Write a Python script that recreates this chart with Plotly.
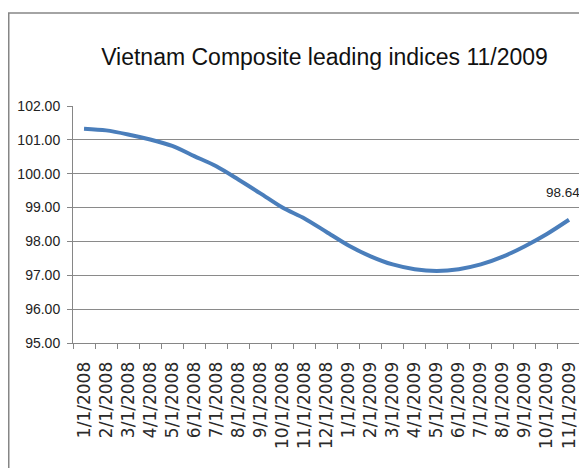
import plotly.graph_objects as go

months = ["1/1/2008", "2/1/2008", "3/1/2008", "4/1/2008", "5/1/2008", "6/1/2008",
          "7/1/2008", "8/1/2008", "9/1/2008", "10/1/2008", "11/1/2008", "12/1/2008",
          "1/1/2009", "2/1/2009", "3/1/2009", "4/1/2009", "5/1/2009", "6/1/2009",
          "7/1/2009", "8/1/2009", "9/1/2009", "10/1/2009", "11/1/2009"]
values = [101.33, 101.28, 101.16, 101.01, 100.82, 100.52, 100.22, 99.83, 99.42,
          99.00, 98.68, 98.28, 97.88, 97.56, 97.32, 97.18, 97.13, 97.18, 97.32,
          97.55, 97.86, 98.22, 98.64]
y_ticks = [95, 96, 97, 98, 99, 100, 101, 102]

# the page body has an 8px default margin, so the figure is offset by 8px
W, H = 579, 460
L, R, T, B = 65, 7, 98, 125
pw, ph = W - L - R, H - T - B

fig = go.Figure()
fig.add_trace(go.Scatter(
    x=months, y=values, mode="lines",
    line=dict(color="#4A7EBB", width=4, shape="spline", smoothing=0.8),
    hoverinfo="skip", showlegend=False))

fig.update_layout(
    width=W, height=H,
    margin=dict(l=L, r=R, t=T, b=B, pad=0),
    paper_bgcolor="white", plot_bgcolor="white",
    title=dict(text="Vietnam Composite leading indices 11/2009",
               x=316.5 / W, xref="container", xanchor="center",
               y=1 - 49 / H, yref="container", yanchor="middle",
               font=dict(family="Liberation Sans Narrow, Liberation Sans, Arial", size=23, color="#111")),
    xaxis=dict(type="category", categoryorder="array", categoryarray=months,
               range=[-0.5, len(months) - 0.5],
               tickangle=-90, tickson="boundaries", ticks="outside", ticklen=5,
               tickcolor="#868686", showline=True, linecolor="#868686", linewidth=1,
               showgrid=False, ticklabelstandoff=11,
               tickfont=dict(family="DejaVu Sans", size=17, color="#2a2a2a")),
    yaxis=dict(range=[95, 102], tickvals=y_ticks, tickformat=".2f",
               ticks="outside", ticklen=5, tickcolor="#868686",
               showline=True, linecolor="#868686", linewidth=1,
               showgrid=True, gridcolor="#8a8a8a", gridwidth=1, zeroline=False,
               ticklabelstandoff=4,
               tickfont=dict(family="Liberation Sans Narrow, Liberation Sans, Arial", size=14, color="#222")),
    annotations=[dict(x=months[-1], y=values[-1], xref="x", yref="y",
                      text=f"{values[-1]:.2f}", showarrow=False,
                      xshift=-6, yshift=27,
                      font=dict(family="Liberation Sans Narrow, Liberation Sans, Arial", size=13.5, color="#222"))],
    shapes=[dict(type="rect", xref="paper", yref="paper",
                 x0=(0.75 - L) / pw, x1=(W + 20 - L) / pw,
                 y0=(H - B - (H + 20)) / ph, y1=(H - B - 5) / ph,
                 line=dict(color="#868686", width=1.5), fillcolor="rgba(0,0,0,0)",
                 layer="below")],
)

fig.write_html("out.html")
